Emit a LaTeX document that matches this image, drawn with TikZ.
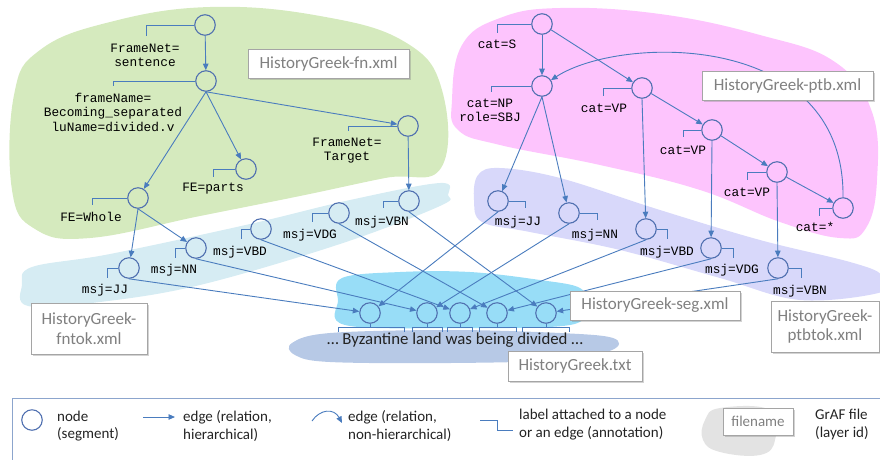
\documentclass[tikz,border=0pt]{standalone}
\usepackage{fontspec}
\usetikzlibrary{arrows.meta,shadows}
\newfontfamily\carl{Carlito}
\newfontfamily\cour{Liberation Mono}
\definecolor{eblue}{RGB}{74,124,190}
\definecolor{cblue}{RGB}{80,112,176}
\definecolor{gfill}{RGB}{213,234,190}
\definecolor{tkfill}{RGB}{214,236,243}
\definecolor{sgfill}{RGB}{152,221,247}
\definecolor{txfill}{RGB}{183,201,230}
\definecolor{pkfill}{RGB}{253,196,253}
\definecolor{lvfill}{RGB}{216,216,250}
\definecolor{boxgray}{RGB}{165,165,165}
\definecolor{fgray}{RGB}{128,128,128}
\definecolor{legline}{RGB}{140,165,205}
\definecolor{txtdark}{RGB}{35,35,35}
\tikzset{
  seg/.style={circle, draw=cblue, line width=1.1pt, minimum size=20.5pt, inner sep=0pt},
  edge/.style={draw=eblue, line width=0.9pt, -{Triangle[length=6.5pt,width=5.5pt]}},
  brk/.style={draw=eblue, line width=0.9pt},
  lbl/.style={font=\cour\fontsize{12.8}{14.5}\selectfont, align=center, inner sep=0pt, text=black},
  fbox/.style={draw=boxgray, fill=white, line width=0.8pt, font=\carl\fontsize{17}{19.5}\selectfont, text=fgray, align=center, inner sep=0pt,
    drop shadow={shadow xshift=1.5pt, shadow yshift=-1.5pt, opacity=0.35}},
  legt/.style={font=\carl\fontsize{15}{17.5}\selectfont, align=left, inner sep=0pt, text=txtdark},
}
\begin{document}
\begin{tikzpicture}[x=1pt,y=-1pt]
\useasboundingbox (0,0) rectangle (880,459);
% ---------- blobs ----------
\fill[gfill] plot[smooth cycle, tension=0.7] coordinates {(14,95) (40,50) (110,22) (210,7) (320,16) (405,42) (442,90) (441,168) (385,178) (300,196) (200,216) (90,238) (35,229) (12,190)};
\fill[tkfill] plot[smooth cycle, tension=0.6] coordinates {(32,267) (110,254) (250,224) (350,200) (440,183) (448,195) (440,206) (340,244) (200,285) (100,302) (28,306) (22,285)};
\fill[pkfill] plot[smooth cycle, tension=0.7] coordinates {(452,100) (462,45) (500,18) (560,8) (660,14) (760,35) (835,62) (872,112) (877,180) (866,228) (840,238) (780,222) (700,190) (600,165) (500,145) (458,130)};
\fill[lvfill] plot[smooth cycle, tension=0.6] coordinates {(478,175) (500,168) (560,178) (660,210) (760,240) (850,262) (882,275) (882,292) (800,300) (720,278) (620,250) (530,232) (482,222) (474,200)};
\fill[sgfill] plot[smooth cycle, tension=0.6] coordinates {(342,278) (400,272) (470,272) (540,280) (580,288) (583,305) (570,325) (450,328) (345,325) (338,300)};
\fill[txfill] plot[smooth cycle, tension=0.6] coordinates {(292,343) (330,333) (450,330) (560,333) (613,338) (612,350) (560,360) (450,363) (330,362) (295,355)};
% ---------- FrameNet nodes ----------
\node[seg] (fs) at (205,25) {};
\node[seg] (fn2) at (206,81) {};
\node[seg] (tg) at (408,126) {};
\node[seg] (pa) at (246,169) {};
\node[seg] (wh) at (138,198) {};
% fntok
\node[seg] (tjj) at (129,268) {};
\node[seg] (tnn) at (196,248) {};
\node[seg] (tvbd) at (261,229) {};
\node[seg] (tvdg) at (339,213) {};
\node[seg] (tvbn) at (409,201) {};
% ptb
\node[seg] (ps) at (542,24) {};
\node[seg] (pnp) at (542,86) {};
\node[seg] (pvp1) at (642,88) {};
\node[seg] (pvp2) at (712,130) {};
\node[seg] (pvp3) at (777,172) {};
\node[seg] (pst) at (843,208) {};
% ptbtok
\node[seg] (qjj) at (498,201) {};
\node[seg] (qnn) at (569,213) {};
\node[seg] (qvbd) at (646,229) {};
\node[seg] (qvdg) at (711,248) {};
\node[seg] (qvbn) at (778,268) {};
% segments
\node[seg] (s1) at (370,313) {};
\node[seg] (s2) at (427,313) {};
\node[seg] (s3) at (460,313) {};
\node[seg] (s4) at (497,313) {};
\node[seg] (s5) at (546,313) {};
% ---------- brackets (left) ----------
\foreach \n/\x/\y in {fs/146/36, fn2/113/86, tg/348/131, pa/213/177, wh/92/205,
  tjj/107/278, tnn/175/258, tvbd/241/239, tvdg/312/222, tvbn/383/208,
  ps/497/33, pnp/491/92, pvp1/603/96, pvp2/683/137, pvp3/747/180, pst/819/216}{
  \coordinate (\n b) at (\x,\y);
  \draw[brk] (\n.west) -| (\n b);
}
% brackets (right)
\foreach \n/\x/\y in {qjj/525/208, qnn/597/220, qvbd/667/239, qvdg/733/258, qvbn/801/278}{
  \coordinate (\n b) at (\x,\y);
  \draw[brk] (\n.east) -| (\n b);
}
% segment brackets
\foreach \n/\a/\b in {s1/338/404, s2/412/442, s3/447/472, s4/479/516, s5/522/569}{
  \coordinate (\n l) at (\a,327);
  \coordinate (\n r) at (\b,327);
  \draw[brk] ([yshift=-5pt]\n l) -- (\n l) -- (\n r) -- ([yshift=-5pt]\n r);
  \draw[brk] (\n.south) -- (\n.south |- \n l);
}
% ---------- labels ----------
\node[lbl] (lfs) at (145,55.5) {FrameNet=\\sentence};
\node[lbl] (lfn2) at (113,112) {frameName=\\Becoming\_separated\\luName=divided.v};
\node[lbl] (ltg) at (347,150.5) {FrameNet=\\Target};
\node[lbl] (lpa) at (213,189) {FE=parts};
\node[lbl] (lwh) at (91,217) {FE=Whole};
\node[lbl] (ltjj) at (105,290) {msj=JJ};
\node[lbl] (ltnn) at (174,270) {msj=NN};
\node[lbl] (ltvbd) at (240,252) {msj=VBD};
\node[lbl] (ltvdg) at (310,235) {msj=VDG};
\node[lbl] (ltvbn) at (382,222) {msj=VBN};
\node[lbl] (lps) at (497,44) {cat=S};
\node[lbl] (lpnp) at (490,110.5) {cat=NP\\role=SBJ};
\node[lbl] (lpvp1) at (604,108) {cat=VP};
\node[lbl] (lpvp2) at (683,150) {cat=VP};
\node[lbl] (lpvp3) at (747,192) {cat=VP};
\node[lbl] (lpst) at (815,227) {cat=*};
\node[lbl] (lqjj) at (518,222) {msj=JJ};
\node[lbl] (lqnn) at (595,235) {msj=NN};
\node[lbl] (lqvbd) at (667,252) {msj=VBD};
\node[lbl] (lqvdg) at (732,270) {msj=VDG};
\node[lbl] (lqvbn) at (800,291) {msj=VBN};
\node[font=\carl\fontsize{16.8}{19}\selectfont, text=txtdark, inner sep=0pt] (txt) at (455,340) {… Byzantine land was being divided  …};
% ---------- edges ----------
\draw[edge] (fs) -- (fn2);
\draw[edge] (fn2.south) -- (tg);
\draw[edge] (fn2.south) -- (pa);
\draw[edge] (fn2.south) -- (wh);
\draw[edge] (tg) -- (tvbn);
\draw[edge] (wh.south) -- (tjj);
\draw[edge] (wh.south) -- (tnn);
\draw[edge] (tjj.south) -- (s1);
\draw[edge] (tnn.south) -- (s2);
\draw[edge] (tvbd.south) -- (s3);
\draw[edge] (tvdg.south) -- (s4);
\draw[edge] (tvbn.south) -- (s5);
\draw[edge] (ps) -- (pnp);
\draw[edge] (ps) -- (pvp1);
\draw[edge] (pvp1) -- (pvp2);
\draw[edge] (pvp2) -- (pvp3);
\draw[edge] (pvp3) -- (pst);
\draw[edge] (pnp.south) -- (qjj);
\draw[edge] (pnp.south) -- (qnn);
\draw[edge] (pvp1.south) -- (qvbd);
\draw[edge] (pvp2.south) -- (qvdg);
\draw[edge] (pvp3.south) -- (qvbn);
\draw[edge] (qjj.south) -- (s1);
\draw[edge] (qnn.south) -- (s2);
\draw[edge] (qvbd.south) -- (s3);
\draw[edge] (qvdg.south) -- (s4);
\draw[edge] (qvbn.south) -- (s5);
\draw[edge] (pst.north) .. controls (845,30) and (620,35) .. (pnp);
% ---------- filename boxes ----------
\node[fbox, minimum width=161pt, minimum height=29pt] (bfn) at (328.5,63.5) {HistoryGreek-fn.xml};
\node[fbox, minimum width=171pt, minimum height=29pt] (bptb) at (787.5,85.5) {HistoryGreek-ptb.xml};
\node[fbox, minimum width=116pt, minimum height=51pt] (bfntok) at (89,328.5) {HistoryGreek-\\fntok.xml};
\node[fbox, minimum width=170pt, minimum height=29pt] (bseg) at (655,305.5) {HistoryGreek-seg.xml};
\node[fbox, minimum width=134pt, minimum height=30pt] (btxt) at (575,366) {HistoryGreek.txt};
\node[fbox, minimum width=108pt, minimum height=51pt] (bptbtok) at (825,326.5) {HistoryGreek-\\ptbtok.xml};
% ---------- legend ----------
\draw[legline, line width=1pt] (12,398) rectangle (900,480);
\node[seg] (lgc) at (32,420) {};
\node[legt, anchor=west] (lgt1) at (57,426) {node\\(segment)};
\coordinate (lga1) at (143,417);
\coordinate (lga2) at (175,417);
\draw[edge] (lga1) -- (lga2);
\node[legt, anchor=west] (lgt2) at (183,426) {edge (relation,\\hierarchical)};
\coordinate (lgb1) at (312,421);
\coordinate (lgb2) at (342,423);
\draw[edge] (lgb1) .. controls (320,409) and (334,408) .. (lgb2);
\node[legt, anchor=west] (lgt3) at (348,426) {edge (relation,\\non-hierarchical)};
\coordinate (lgk1) at (480,420);
\coordinate (lgk2) at (513,430);
\draw[brk] (lgk1) -- ++(17,0) |- (lgk2);
\node[legt, anchor=west] (lgt4) at (519,424.5) {label attached to a node\\or an edge (annotation)};
\fill[gray!22] plot[smooth cycle, tension=0.7] coordinates {(705,420) (720,408) (770,410) (775,440) (760,455) (720,452) (703,440)};
\node[fbox, font=\carl\fontsize{15}{17}\selectfont, minimum width=70pt, minimum height=27pt] (lgf) at (758,421.5) {filename};
\node[legt, anchor=west] (lgt5) at (815,424.5) {GrAF file\\(layer id)};
\end{tikzpicture}
\end{document}
